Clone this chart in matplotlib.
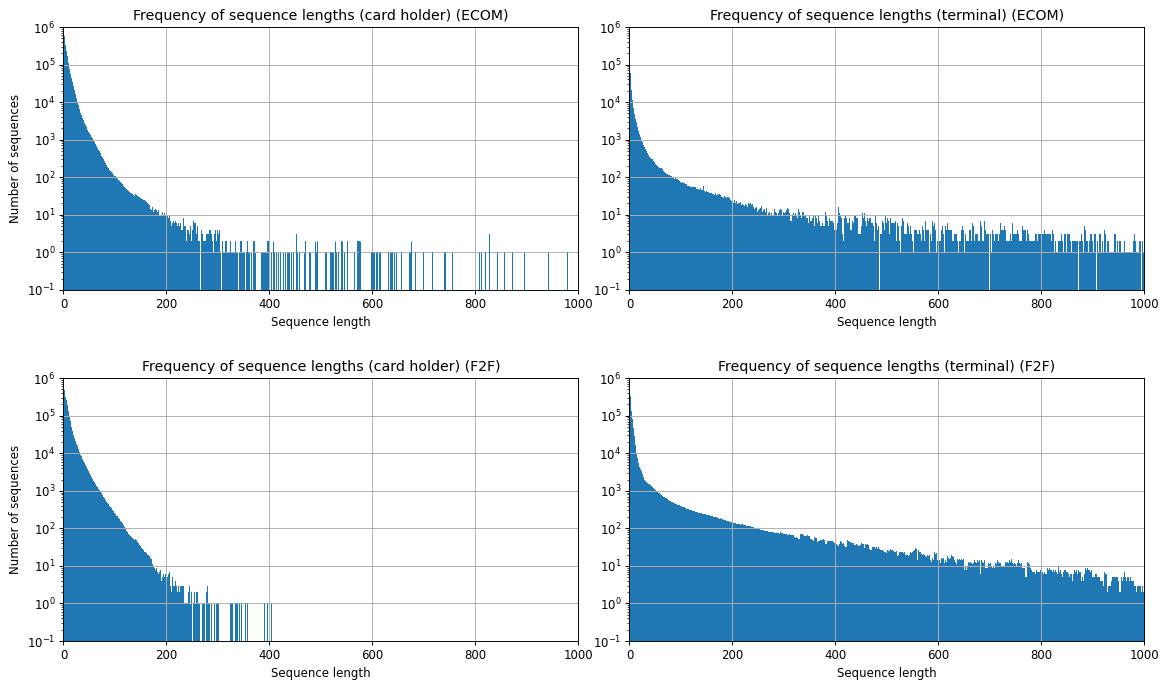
import numpy as np
import matplotlib
matplotlib.use('Agg')
import matplotlib.pyplot as plt

# counts per sequence length, starting at length 1
ch_ecom_head = [
    562000, 417000, 331000, 269000, 229000, 200000, 174000, 141000, 112000, 89100,
    74100, 64600, 56200, 49000, 43600, 38900, 34400, 30500, 27000, 23900,
    21100, 18700, 16600, 14700, 13000, 11500, 10200, 9120, 8130, 7240,
    6460, 5750, 5130, 4570, 4070, 3790, 3530, 3290, 3060, 2850,
    2650, 2470, 2300, 2140, 2000, 1860, 1740, 1620, 1540, 1470,
    1390, 1320, 1260, 1200, 1140, 1080, 1030, 977, 918, 861,
    808, 759, 712, 668, 628, 589, 553, 519, 487, 457,
    429, 403, 378, 355, 336, 318, 301, 284, 269, 255,
    241, 230, 214, 206, 191, 185, 172, 169, 158, 157,
    148, 146, 137, 136, 127, 126, 118, 119, 110, 109,
    106, 98, 97, 91, 92, 83, 84, 78, 79, 73,
    74, 68, 70, 64, 66, 60, 63, 56, 58, 52,
    54, 49, 51, 46, 48, 43, 46, 41, 44, 39,
    42, 37, 40, 35, 38, 33, 36, 31, 35, 30,
    33, 28, 31, 27, 30, 26, 29, 24, 28, 23,
    27, 22, 26, 21, 25, 20, 24, 19, 23, 18,
    22, 17, 21, 16, 19, 15, 18, 16, 14, 17,
    13, 16, 14, 12, 15, 13, 11, 14, 12, 13,
    11, 12, 10, 13, 11, 9, 12, 10, 11, 9,
    10, 12, 8, 10, 9, 11, 8, 10, 5, 9,
    7, 9, 10, 8, 6, 9, 7, 10, 5, 8,
    6, 11, 7, 4, 6, 5, 7, 3, 6, 4,
    5, 2, 6, 3, 5, 6, 6, 3, 4, 3,
    4, 0, 8, 7, 5, 5, 5, 5, 2, 2,
    4, 4, 3, 3, 5, 5, 2, 2, 8, 4,
    4, 7, 6, 6, 6, 6, 3, 3, 3, 5,
    5, 2, 2, 2, 3, 0, 4, 4, 3, 3,
    2, 2, 2, 2, 2, 2, 3, 3, 3, 2,
    3, 2, 4, 4, 4, 3, 3, 2, 2, 1,
    1, 1, 3, 3, 4, 4, 2, 2, 4, 3,
    3, 4, 4, 1, 1, 1, 0, 2, 2, 1,
    1, 1, 3, 2, 2, 2, 2, 1, 1, 1,
    0, 1, 0, 2, 2, 1, 2, 1, 1, 1,
    0, 1, 1, 2, 1, 1, 1, 1, 1, 0,
    1,
]
# single long sequences (a length repeated once per sequence)
ch_ecom_tail = [
    342, 343, 344, 344, 345, 345, 346, 347, 349, 350, 350, 351, 352, 354, 355,
    357, 357, 359, 360, 361, 362, 364, 365, 368, 368, 369, 369, 370, 370, 371,
    371, 372, 373, 374, 383, 384, 385, 386, 387, 388, 389, 390, 391, 392, 393,
    394, 395, 396, 396, 397, 397, 398, 398, 399, 399, 400, 400, 401, 403, 404,
    407, 407, 410, 411, 413, 414, 416, 417, 418, 420, 427, 428, 431, 432, 434,
    435, 436, 436, 437, 439, 440, 443, 444, 446, 452, 452, 452, 454, 455, 457,
    467, 467, 468, 470, 470, 471, 478, 488, 488, 490, 492, 492, 509, 510, 510,
    511, 517, 519, 521, 523, 527, 527, 530, 533, 540, 540, 542, 543, 543, 545,
    551, 551, 564, 570, 570, 571, 571, 573, 573, 575, 575, 577, 578, 598, 600,
    602, 608, 614, 631, 635, 637, 642, 646, 646, 647, 648, 656, 672, 675, 675,
    683, 699, 716, 740, 755, 807, 811, 819, 827, 827, 827, 842, 856, 871, 895,
    941, 978,
]

term_ecom = [
    60000, 32000, 21000, 15000, 11500, 9000, 7000, 5800, 4800, 4100,
    3600, 3200, 2900, 2600, 2200, 1900, 1650, 1500, 1380, 1280,
    1180, 1080, 990, 910, 850, 780, 720, 670, 620, 590,
    560, 530, 500, 460, 430, 400, 375, 355, 340, 330,
    320, 312, 305, 300, 290, 275, 262, 250, 240, 228,
    218, 210, 202, 196, 190, 186, 183, 180, 178, 176,
    174, 171, 168, 163, 156, 148, 140, 134, 130, 127,
    125, 124, 122, 120, 117, 115, 113, 112, 110, 108,
    106, 104, 100, 97, 95, 93, 92, 91, 94, 90,
    89, 91, 88, 86, 84, 80, 78, 76, 75, 73,
    72, 71, 73, 70, 69, 71, 68, 66, 67, 64,
    62, 60, 61, 58, 59, 57, 60, 56, 58, 55,
    57, 54, 56, 55, 53, 55, 52, 54, 51, 50,
    52, 49, 51, 48, 50, 47, 49, 51, 46, 48,
    47, 45, 60, 40, 42, 43, 41, 39, 42, 40,
    41, 38, 40, 37, 39, 42, 38, 36, 39, 37,
    36, 38, 35, 37, 34, 36, 38, 35, 33, 37,
    34, 36, 32, 35, 33, 34, 32, 30, 33, 29,
    31, 28, 30, 32, 27, 29, 31, 28, 26, 30,
    27, 29, 25, 28, 26, 24, 26, 23, 25, 22,
    24, 21, 23, 25, 22, 20, 23, 21, 19, 22,
    20, 24, 21, 19, 22, 20, 18, 21, 19, 23,
    18, 20, 17, 21, 19, 22, 18, 20, 16, 19,
    21, 17, 19, 18, 20, 16, 18, 15, 19, 17,
    16, 14, 17, 15, 13, 16, 14, 12, 15, 13,
    16, 14, 12, 15, 13, 17, 14, 12, 15, 13,
    11, 14, 16, 12, 13, 15, 12, 10, 13, 11,
    9, 12, 14, 10, 11, 13, 9, 12, 10, 11,
    14, 10, 12, 9, 11, 13, 10, 12, 11, 9, 13, 10,
    14, 12, 13, 11, 9, 10, 12, 13, 11, 15, 12, 14, 13, 13, 15, 12, 14, 11, 12,
    7, 6, 7, 13, 10, 12, 11, 10, 9, 8, 11, 13, 10, 9, 8, 9, 14, 11, 12, 10,
    9, 7, 8, 16, 12, 11, 12, 14, 10, 10, 9, 10, 8, 8, 7, 6, 13, 10, 9,
    7, 6, 7, 11, 8, 10, 9, 6, 5, 6, 9, 7, 8, 8, 6, 7, 9, 8, 7, 9,
    5, 4, 5, 9, 6, 8, 5, 4, 5, 12, 9, 10, 8, 7, 6, 5, 12, 8, 10,
    7, 6, 7, 9, 7, 8, 6, 5, 4, 5, 5, 5, 4, 8, 6, 7, 16, 9, 11, 8,
    9, 7, 8, 3, 3, 2, 11, 8, 9, 10, 11, 8, 9, 6, 5, 6, 11, 8, 9,
    4, 3, 4, 9, 7, 8, 6, 13, 9, 10, 9, 7, 8, 11, 8, 9, 3, 2, 3, 3,
    7, 5, 6, 11, 9, 8, 10, 11, 8, 7, 6, 5, 7, 8, 6, 7, 11, 8, 9,
    8, 7, 6, 8, 6, 7, 5, 2, 2, 2, 9, 7, 6, 5, 4, 5, 4, 0, 4, 3,
    4, 3, 4, 7, 5, 6, 6, 4, 5, 9, 7, 6, 8, 8, 6, 7, 4, 3, 4,
    8, 5, 6, 7, 6, 5, 6, 8, 6, 7, 2, 2, 1, 6, 4, 5, 2, 2, 2, 1,
    6, 5, 4, 8, 6, 7, 4, 3, 4, 3, 2, 3, 2, 6, 4, 5, 4, 3, 4,
    5, 4, 3, 2, 2, 1, 2, 4, 3, 4, 4, 4, 3, 3, 2, 3, 6, 4, 5, 3,
    3, 2, 3, 5, 3, 4, 2, 2, 1, 7, 5, 4, 6, 4, 3, 4, 2, 1, 2,
    3, 2, 3, 7, 4, 5, 6, 6, 5, 4, 1, 1, 1, 2, 1, 2, 2, 2, 1, 2,
    6, 4, 5, 5, 4, 3, 1, 1, 1, 5, 3, 4, 5, 6, 4, 5, 4, 3, 4,
    4, 4, 3, 2, 1, 2, 2, 3, 2, 3, 4, 3, 4, 2, 2, 1, 3, 2, 3, 2,
    5, 4, 3, 5, 3, 4, 1, 1, 1, 3, 2, 3, 2, 2, 2, 1, 4, 3, 4,
    3, 2, 3, 6, 4, 5, 2, 2, 1, 3, 2, 3, 2, 3, 3, 2, 3, 2, 3,
    7, 4, 5, 2, 2, 1, 2, 7, 5, 4, 5, 3, 4, 3, 2, 3, 3, 0, 2, 3,
    2, 1, 2, 4, 3, 3, 3, 2, 3, 3, 2, 3, 2, 3, 3, 2, 4, 3, 2,
    6, 4, 5, 4, 3, 4, 2, 5, 3, 4, 3, 2, 3, 2, 1, 2, 3, 2, 3, 3,
    2, 2, 1, 6, 4, 3, 4, 3, 4, 3, 2, 3, 2, 4, 3, 3, 2, 1, 2,
    3, 2, 3, 5, 0, 4, 3, 4, 3, 4, 2, 2, 1, 4, 3, 3, 3, 2, 3, 2,
    2, 2, 1, 2, 1, 2, 2, 2, 2, 3, 2, 3, 2, 3, 3, 2, 3, 2, 3,
    3, 2, 2, 3, 2, 3, 2, 4, 3, 3, 5, 3, 4, 3, 2, 3, 4, 3, 2, 3,
    3, 2, 3, 4, 2, 3, 2, 1, 2, 1, 1, 1, 1, 3, 2, 3, 2, 1, 2,
    4, 3, 3, 2, 2, 1, 2, 3, 2, 3, 2, 1, 2, 3, 2, 3, 3, 3, 2, 2,
    2, 1, 2, 2, 2, 1, 2, 1, 2, 2, 2, 1, 2, 1, 0, 1, 2, 1, 2,
    7, 3, 4, 2, 2, 1, 2, 5, 3, 4, 3, 2, 3, 2, 2, 1, 3, 2, 3, 2,
    3, 3, 2, 1, 1, 1, 3, 2, 3, 3, 0, 2, 2, 2, 1, 2, 3, 2, 3,
    2, 1, 2, 2, 2, 1, 2, 4, 2, 3, 2, 1, 2, 2, 2, 1, 1, 1, 1, 1,
    1, 0, 1, 2, 1, 2, 3, 2, 3, 2, 1, 2, 2, 1, 1, 1, 2, 1, 2,
    1, 1, 1, 1, 1, 1, 1, 2, 1, 2, 1, 1, 1, 3, 1, 2, 1, 1, 1, 1,
    1, 1, 1, 3, 2, 1, 3, 1, 2, 1, 1, 1, 1, 1, 1, 1, 2, 1, 2,
    1, 0, 1, 2, 1, 2,
]

ch_f2f_head = [
    490000, 380000, 320000, 285000, 258000, 235000, 195000, 160000, 135000, 115000,
    98000, 83000, 71000, 60000, 51000, 44000, 38500, 34000, 30500, 28000,
    25700, 23400, 21400, 19700, 18200, 16800, 15500, 14300, 13200, 12000,
    11000, 10000, 9120, 8320, 7590, 7080, 6640, 6220, 5830, 5470,
    5130, 4810, 4510, 4230, 3960, 3720, 3480, 3270, 3090, 2920,
    2770, 2620, 2480, 2340, 2220, 2100, 1990, 1880, 1780, 1680,
    1580, 1510, 1430, 1360, 1290, 1230, 1170, 1110, 1060, 1005,
    955, 906, 859, 815, 773, 733, 695, 659, 625, 593,
    562, 540, 518, 497, 476, 457, 439, 421, 404, 387,
    372, 356, 342, 331, 316, 302, 288, 275, 263, 251,
    240, 229, 219, 209, 200, 191, 182, 174, 166, 158,
    151, 145, 140, 135, 129, 123, 119, 109, 107, 98,
    96, 87, 88, 79, 81, 71, 76, 66, 70, 63,
    66, 58, 62, 54, 58, 51, 55, 48, 52, 45,
    48, 41, 44, 37, 40, 33, 36, 30, 33, 27,
    30, 24, 28, 23, 27, 21, 24, 20, 23, 18,
    22, 17, 20, 16, 19, 15, 18, 14, 16, 12,
    15, 11, 14, 10, 13, 9, 12, 8, 11, 9,
    10, 7, 9, 6, 8, 7, 5, 8, 6, 4,
    7, 5, 3, 6, 4, 5, 3, 6, 2, 4,
    4, 5, 7, 6, 4, 7, 3, 3, 2, 6,
    5, 6, 3, 2, 3, 9, 4, 4, 3, 4,
    2, 4, 3, 0, 2, 3, 3, 2, 3, 3,
    3, 0, 3, 3, 1, 0, 1, 1, 1, 1,
    1, 2, 2, 3, 0, 1, 1, 2, 2, 0,
    1, 1, 1, 2, 2, 1, 1, 2, 2, 2,
    1, 1, 1, 1, 0, 0, 0, 0, 1, 1,
    1, 1, 1, 1, 0, 0, 2, 2, 3, 3,
    1, 0, 1, 1, 0, 0, 1, 1, 0, 0,
    0, 1, 1, 0, 0, 0, 1, 1, 1, 1,
    1, 1,
]
ch_f2f_tail = [323, 325, 327, 333, 336, 341, 345, 352, 356, 389, 395, 403]

term_f2f = [
    340000, 210000, 130000, 100000, 80000, 58000, 47000, 36000, 28000, 22000,
    17000, 13000, 10000, 8500, 7400, 6300, 5400, 4900, 4400, 4000,
    3750, 3550, 3300, 3000, 2800, 2600, 2400, 2200, 1980, 1900,
    1820, 1740, 1700, 1660, 1600, 1560, 1520, 1480, 1440, 1410,
    1380, 1350, 1320, 1290, 1250, 1210, 1170, 1130, 1090, 1050,
    1020, 1000, 980, 960, 930, 890, 870, 850, 830, 810,
    790, 770, 750, 720, 700, 690, 680, 665, 650, 640,
    630, 615, 600, 585, 570, 560, 550, 540, 530, 520,
    510, 500, 492, 484, 476, 468, 462, 456, 450, 445,
    440, 436, 432, 428, 425, 420, 418, 412, 405, 398,
    392, 384, 380, 371, 366, 360, 352, 349, 343, 338,
    339, 330, 328, 322, 320, 314, 312, 306, 304, 300,
    298, 296, 290, 295, 285, 283, 280, 276, 274, 270,
    268, 266, 261, 264, 256, 258, 252, 249, 254, 251,
    246, 249, 241, 243, 238, 236, 240, 232, 233, 228,
    230, 224, 226, 221, 223, 218, 220, 215, 216, 214,
    210, 212, 206, 203, 205, 198, 200, 195, 196, 192,
    190, 187, 189, 183, 181, 184, 178, 176, 174, 177,
    170, 168, 171, 165, 163, 166, 160, 158, 161, 155,
    153, 156, 150, 148, 151, 146, 144, 147, 145, 140,
    142, 139, 137, 141, 135, 138, 133, 136, 131, 134,
    130, 132, 128, 131, 126, 129, 127, 124, 128, 122,
    125, 120, 123, 118, 121, 117, 119, 115, 118, 113,
    116, 112, 114, 110, 113, 109, 111, 107, 110, 105,
    108, 104, 106, 102, 104, 100, 103, 98, 101, 97,
    99, 95, 97, 93, 96, 92, 94, 90, 93, 89,
    91, 87, 90, 86, 88, 84, 87, 83, 85, 82,
    84, 80, 83, 79, 81, 78, 80, 76, 79, 75,
    77, 74, 76, 73, 75, 72, 74, 71, 73, 70, 72, 69,
    79, 74, 77, 71, 75, 73, 72, 75, 70, 74, 69, 73, 71,
    72, 68, 70, 66, 71, 67, 68, 64, 66, 62, 67, 63, 65,
    62, 58, 61, 57, 60, 59, 60, 56, 58, 52, 50, 53, 51,
    72, 66, 69, 64, 70, 65, 65, 61, 63, 59, 64, 60, 62,
    65, 60, 63, 58, 62, 59, 52, 49, 51, 47, 50, 48, 46,
    65, 58, 61, 56, 60, 55, 39, 44, 50, 46, 48, 45, 47,
    50, 46, 48, 44, 49, 45, 52, 47, 49, 38, 41, 39, 43,
    47, 43, 45, 42, 46, 44, 47, 44, 45, 41, 46, 42, 43,
    43, 40, 42, 38, 41, 39, 38, 35, 37, 34, 36, 38, 35,
    45, 41, 43, 39, 42, 40, 35, 33, 34, 31, 35, 32, 33,
    48, 43, 45, 41, 44, 42, 43, 39, 41, 37, 42, 38, 40,
    41, 37, 39, 36, 40, 38, 38, 35, 37, 33, 36, 34, 35,
    45, 40, 42, 38, 41, 39, 26, 30, 28, 39, 35, 37, 33,
    39, 34, 36, 27, 29, 28, 27, 25, 26, 35, 32, 34, 31,
    35, 31, 33, 30, 33, 31, 33, 29, 31, 30, 28, 30, 27,
    30, 27, 28, 26, 24, 25, 26, 24, 25, 23, 26, 22, 24,
    26, 23, 25, 28, 25, 26, 28, 25, 27, 24, 26, 23, 25,
    26, 23, 24, 28, 25, 27, 18, 20, 19, 27, 24, 26, 23,
    27, 24, 26, 23, 25, 22, 27, 24, 25, 19, 18, 20, 19,
    19, 17, 18, 23, 20, 22, 23, 21, 22, 27, 24, 25, 23,
    27, 24, 30, 26, 28, 25, 14, 20, 26, 22, 24, 21, 23,
    24, 21, 23, 20, 22, 21, 21, 19, 20, 18, 21, 17, 19,
    19, 17, 18, 16, 19, 17, 14, 13, 14, 16, 15, 14, 16,
    23, 20, 21, 19, 22, 18, 14, 13, 14, 12, 14, 13, 12,
    18, 16, 17, 15, 18, 16, 14, 12, 13, 14, 11, 13, 12,
    18, 16, 17, 15, 18, 16, 23, 19, 21, 18, 20, 17, 19,
    14, 12, 13, 14, 11, 13, 15, 13, 14, 12, 15, 13, 14,
    17, 15, 16, 14, 17, 15, 9, 8, 9, 10, 8, 9, 10,
    15, 13, 14, 12, 15, 13,
    14, 12, 13, 11, 14, 12, 19, 14, 16, 13, 15, 12, 14,
    14, 12, 13, 11, 14, 12, 6, 9, 14, 12, 13, 11, 12,
    14, 12, 9, 8, 9, 8, 9, 8, 12, 10, 11, 9, 12,
    12, 10, 11, 9, 11, 10, 11, 9, 14, 12, 13, 11, 12,
    14, 12, 13, 11, 12, 10, 12, 10, 11, 10, 9, 10, 8,
    10, 9, 13, 11, 12, 10, 13, 11, 12, 19, 14, 16, 13,
    19, 15, 14, 12, 13, 11, 14, 12, 13, 11, 12, 10, 11,
    12, 10, 14, 12, 13, 11, 14, 12, 13, 9, 8, 9, 7,
    9, 8, 5, 6, 5, 7, 13, 10, 12, 9, 11, 10, 9,
    9, 8, 9, 7, 8, 7, 8, 7, 8, 6, 7, 8, 7,
    9, 7, 8, 7, 9, 8, 7, 8, 6, 7, 8, 6, 7,
    7, 8, 6, 7, 6, 7, 9, 7, 8, 6, 9, 7, 8,
    10, 8, 9, 7, 10, 8, 8, 7, 8, 6, 7, 8, 6,
    9, 10, 8, 7, 9, 8, 7, 6, 7, 5, 6, 7, 6,
    8, 7, 8, 6, 7, 8, 7, 8, 6, 7, 5, 7, 6,
    5, 6, 4, 5, 6, 5, 8, 6, 7, 5, 8, 7, 6,
    7, 8, 6, 7, 5, 7, 2, 4, 6, 5, 6, 4, 5,
    6, 5, 9, 7, 8, 6, 9, 7, 8, 6, 8, 7, 6,
    8, 6, 5, 4, 5, 4, 5, 4, 6, 5, 6, 4, 5,
    6, 5, 1, 5, 6, 4, 5, 4, 6, 4, 5, 3, 5,
    7, 5, 6, 4, 6, 5, 2, 3, 4, 3, 4, 3, 4,
    4, 3, 5, 4, 5, 4, 5, 4, 5, 3, 5, 4, 5,
    5, 4, 2, 2, 3, 2, 7, 5, 6, 4, 6, 5, 4,
    7, 5, 6, 4, 6, 5, 7, 5, 6, 4, 7, 5, 4,
    4, 3, 4, 3, 4, 3, 3, 2, 3, 3, 2, 3, 3,
    4, 3, 4, 3, 4, 3, 3, 2, 4, 3, 2, 3, 4,
]

titles = [
    'Frequency of sequence lengths (card holder) (ECOM)',
    'Frequency of sequence lengths (terminal) (ECOM)',
    'Frequency of sequence lengths (card holder) (F2F)',
    'Frequency of sequence lengths (terminal) (F2F)',
]

max_len = 1000


def to_counts(head, tail=()):
    # bin i holds the number of sequences of length i
    counts = np.zeros(max_len)
    head = np.asarray(head[:max_len - 1], dtype=float)
    counts[1:1 + len(head)] = head
    for n in tail:
        counts[n] += 1
    return counts


all_counts = [
    to_counts(ch_ecom_head, ch_ecom_tail),
    to_counts(term_ecom),
    to_counts(ch_f2f_head, ch_f2f_tail),
    to_counts(term_f2f),
]

edges = np.arange(0, max_len + 1)

dpi = 85
fig, axes = plt.subplots(2, 2, figsize=(1165 / dpi, 682 / dpi), dpi=dpi)

for i, ax in enumerate(axes.flat):
    counts = all_counts[i]
    ax.hist(edges[:-1], bins=edges, weights=counts, log=True, color='#1f77b4')

    # a lone bin is narrower than a pixel and can vanish when snapped,
    # so redraw those as one-pixel lines
    left = np.r_[0, counts[:-1]]
    right = np.r_[counts[1:], 0]
    lone = (counts > 0) & (left == 0) & (right == 0)
    ax.vlines(edges[:-1][lone] + 0.5, 0.1, counts[lone], color='#1f77b4',
              linewidth=72 / dpi)

    ax.set_xlim(0, 1000)
    ax.set_ylim(1e-1, 1e6)
    ax.set_title(titles[i])
    ax.set_xlabel('Sequence length')
    if i % 2 == 0:
        ax.set_ylabel('Number of sequences')
    ax.grid(True)

fig.subplots_adjust(left=0.0545, right=0.982, bottom=0.0601, top=0.9604,
                    wspace=0.1, hspace=0.336)
fig.savefig('out.png', dpi=dpi)
